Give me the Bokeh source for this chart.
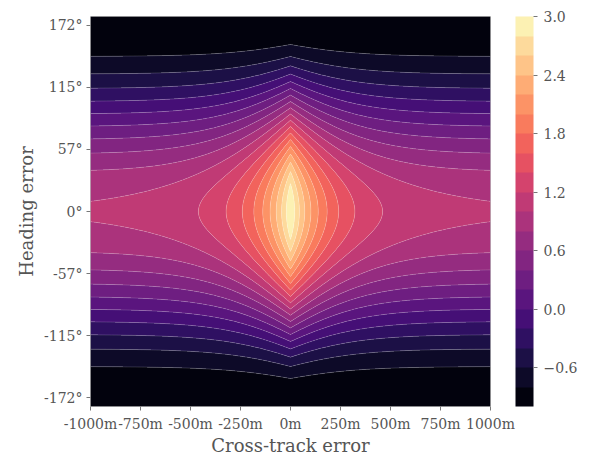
import numpy as np
from bokeh.plotting import figure
from bokeh.models import ColorBar, LinearColorMapper, FixedTicker, Range1d
from bokeh.palettes import Magma256
from bokeh.embed import file_html
from bokeh.resources import INLINE

# ---------------- values ----------------
cross_track_m = np.linspace(-1000, 1000, 401)          # x grid (m)
heading_rad = np.linspace(-np.pi, np.pi, 361)          # y grid (rad)
gamma_e = 0.005
levels = [-1.0, -0.8, -0.6, -0.4, -0.2, 0.0, 0.2, 0.4, 0.6, 0.8, 1.0,
          1.2, 1.4, 1.6, 1.8, 2.0, 2.2, 2.4, 2.6, 2.8, 3.0]
x_ticks = [-1000, -750, -500, -250, 0, 250, 500, 750, 1000]
x_tick_labels = ["-1000m", "-750m", "-500m", "-250m", "0m", "250m", "500m", "750m", "1000m"]
y_ticks = [-3, -2, -1, 0, 1, 2, 3]
y_tick_labels = ["-172°", "-115°", "-57°", "0°", "57°", "115°", "172°"]
cbar_ticks = [-0.6, 0.0, 0.6, 1.2, 1.8, 2.4, 3.0]
cbar_tick_labels = ["\u22120.6", "0.0", "0.6", "1.2", "1.8", "2.4", "3.0"]

# ---------------- field ----------------
E, PSI = np.meshgrid(cross_track_m, heading_rad)
reward = (1 + np.cos(PSI)) * (1 + np.exp(-gamma_e * np.abs(E))) - 1

lo, hi = levels[0], levels[-1]
mids = [(a + b) / 2 for a, b in zip(levels[:-1], levels[1:])]
band_colors = [Magma256[min(255, int((m - lo) / (hi - lo) * 256))] for m in mids]
fill_levels = list(levels)
fill_levels[0] -= 1e-6
fill_levels[-1] += 1e-6

FONT = "DejaVu Serif"
TXT = "#555555"
TICK = "#777777"

p = figure(width=590, height=458, output_backend="svg", toolbar_location=None,
           x_range=Range1d(-1000, 1000), y_range=Range1d(-np.pi, np.pi),
           min_border_left=90, min_border_right=100, min_border_top=16, min_border_bottom=52,
           x_axis_label="Cross-track error", y_axis_label="Heading error")
p.grid.visible = False
p.outline_line_color = "#bbbbbb"
p.background_fill_color = "white"
p.border_fill_color = "white"

p.contour(x=cross_track_m, y=heading_rad, z=reward, levels=fill_levels,
          fill_color=band_colors, line_color=None)
p.contour(x=cross_track_m, y=heading_rad, z=reward, levels=levels[1:-1],
          line_color="white", line_alpha=0.3, line_width=0.6)

for ax in (p.xaxis[0], p.yaxis[0]):
    ax.axis_line_color = None
    ax.major_tick_line_color = TICK
    ax.major_tick_out = 4
    ax.major_tick_in = 0
    ax.minor_tick_line_color = None
    ax.major_label_text_font = FONT
    ax.major_label_text_font_size = "14px"
    ax.major_label_text_color = TXT
    ax.major_label_standoff = 4
    ax.axis_label_text_font = FONT
    ax.axis_label_text_font_size = "18px"
    ax.axis_label_text_font_style = "normal"
    ax.axis_label_text_color = TXT
    ax.axis_label_standoff = 4

p.xaxis.major_label_standoff = 5
p.xaxis.axis_label_standoff = 0

p.xaxis.ticker = FixedTicker(ticks=x_ticks)
p.xaxis.major_label_overrides = dict(zip(x_ticks, x_tick_labels))
p.yaxis.ticker = FixedTicker(ticks=y_ticks)
p.yaxis.major_label_overrides = dict(zip(y_ticks, y_tick_labels))

mapper = LinearColorMapper(palette=band_colors, low=lo, high=hi)
cb = ColorBar(color_mapper=mapper, ticker=FixedTicker(ticks=cbar_ticks),
              major_label_overrides=dict(zip(cbar_ticks, cbar_tick_labels)),
              width=18, height=390, location=(25, 0), margin=0, padding=0,
              major_tick_in=0, major_tick_out=4, major_tick_line_color=TICK,
              label_standoff=6, major_label_text_font=FONT,
              major_label_text_font_size="14px", major_label_text_color=TXT,
              bar_line_color=None, border_line_color=None, background_fill_color=None,
              minor_tick_line_color=None)
p.add_layout(cb, "right")

open("out.html", "w").write(file_html(p, INLINE))
